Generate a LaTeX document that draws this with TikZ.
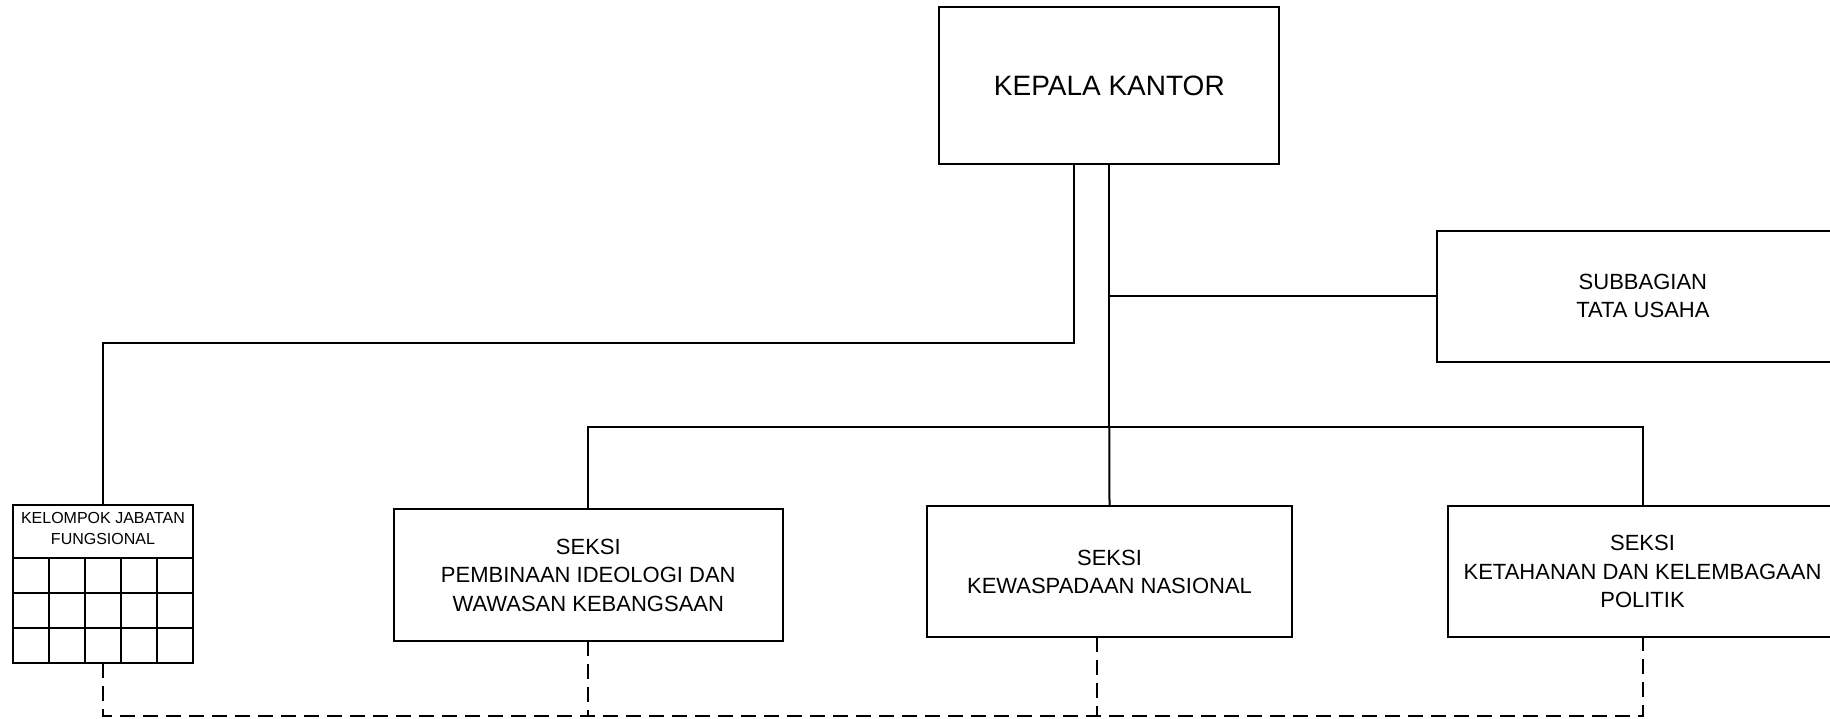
\documentclass[tikz,border=0pt]{standalone}
\usepackage{fontspec}
\setmainfont{Liberation Sans}
\usetikzlibrary{calc}
\begin{document}
\begin{tikzpicture}[x=1pt,y=-1pt,
  unit/.style={draw,line width=2pt,inner sep=0pt,outer sep=0pt,align=center,
    font=\fontsize{22}{28.3}\selectfont},
  link/.style={line width=2pt},
  dotlink/.style={line width=2pt,dash pattern=on 15pt off 8pt}]
\clip (0,0) rectangle (1830,718);

% head of office
\node[unit,minimum width=340pt,minimum height=157.6pt,font=\fontsize{28}{32}\selectfont]
  (kepala) at (1109.3,85.5) {KEPALA KANTOR};

% administration unit
\node[unit,minimum width=412.3pt,minimum height=131pt] (tu) at (1642.9,296.2)
  {SUBBAGIAN\\TATA USAHA};

% sections
\node[unit,minimum width=388.7pt,minimum height=131.7pt] (s1) at (588.3,575.2)
  {SEKSI\\PEMBINAAN IDEOLOGI DAN\\WAWASAN KEBANGSAAN};
\node[unit,minimum width=364.4pt,minimum height=131.3pt] (s2) at (1109.5,571.7)
  {SEKSI\\KEWASPADAAN NASIONAL};
\node[unit,minimum width=388.4pt,minimum height=131.3pt] (s3) at (1642.5,571.7)
  {SEKSI\\KETAHANAN DAN KELEMBAGAAN\\POLITIK};

% functional group: header with a 5 x 3 grid below
\node[draw,line width=2pt,inner sep=0pt,outer sep=0pt,minimum width=179.4pt,
  minimum height=53.3pt] (kjf) at (103,531.7) {};
\node[align=center,inner sep=0pt,font=\fontsize{16}{20.7}\selectfont] (kjft) at (103,528.3)
  {KELOMPOK JABATAN\\FUNGSIONAL};
\draw[line width=2pt] (kjf.south west) rectangle ++(179.4,105);
\foreach \i in {1,...,4} \draw[line width=2pt] ($(kjf.south west)+(35.88*\i,0)$) -- ++(0,105);
\foreach \j in {1,2} \draw[line width=2pt] ($(kjf.south west)+(0,35*\j)$) -- ++(179.4,0);
\coordinate (kjfb) at (103.3,663.3);

% command lines
\coordinate (trunk) at (1109.3,427.3);
\coordinate (kbend) at (1074.3,343.3);
\coordinate (kjfx) at (103.3,343.3);
\draw[link] (kepala.south) -- (trunk);
\draw[link] (kepala.south -| kbend) -- (kbend) -- (kjfx) -- (kjfx |- kjf.north);
\draw[link] (kepala.south |- tu.west) -- (tu.west);
\draw[link] (s1.north) |- (trunk) -| (s3.north);
\draw[link] (trunk) -- (s2.north);

% coordination lines
\coordinate (base) at (103.3,715.5);
\coordinate (s2drop) at (1097.3,715.5);
\draw[dotlink] (kjfb) -- (base) -| (s3.south);
\draw[dotlink] (s1.south) -- (s1.south |- base);
\draw[dotlink] (s2drop |- s2.south) -- (s2drop);
\end{tikzpicture}
\end{document}
